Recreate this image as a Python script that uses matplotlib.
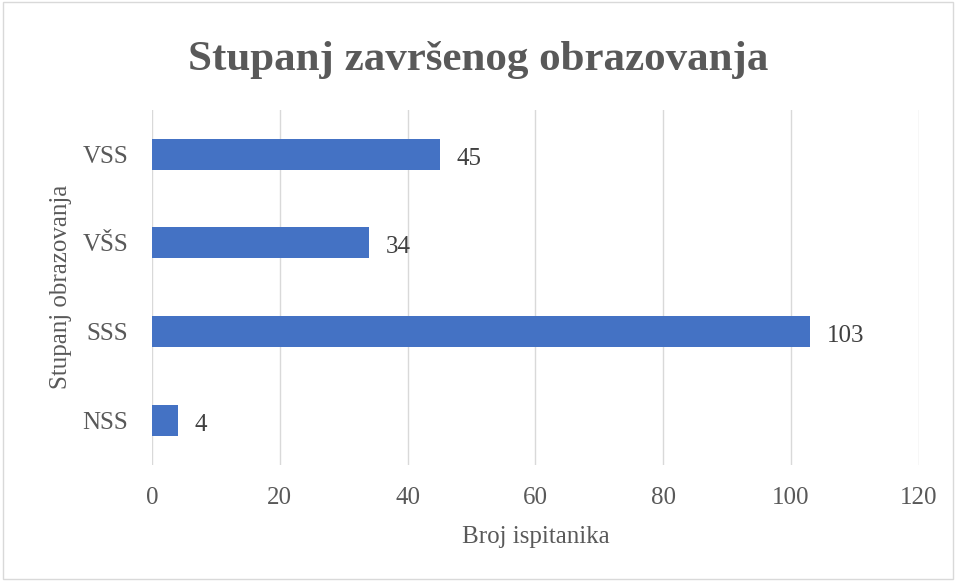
import matplotlib.pyplot as plt
from matplotlib.patches import Rectangle

# Data
categories = ['NSS', 'SSS', 'VŠS', 'VSS']
counts = [4, 103, 34, 45]
x_ticks = [0, 20, 40, 60, 80, 100, 120]

plt.rcParams['font.family'] = ['Liberation Serif', 'DejaVu Serif']

fig = plt.figure(figsize=(9.56, 5.81), dpi=100)
ax = fig.add_axes([0.159, 0.2, 0.802, 0.611])

bars = ax.barh(categories, counts, height=0.35, color='#4472c4', zorder=3)
for rect, v in zip(bars, counts):
    ax.text(rect.get_width() + 2.6, rect.get_y() + rect.get_height() / 2 - 0.05, str(v),
            va='center', ha='left', fontsize=18, color='#404040')

ax.set_xlim(0, 120)
ax.set_ylim(-0.5, 3.5)
ax.set_xticks(x_ticks)
ax.grid(axis='x', color='#d9d9d9', linewidth=1, zorder=0)
for s in ax.spines.values():
    s.set_visible(False)
ax.tick_params(axis='both', length=0, labelsize=18, labelcolor='#595959')
ax.tick_params(axis='x', pad=16)
ax.tick_params(axis='y', pad=17)

ax.set_xlabel('Broj ispitanika', fontsize=18, color='#595959', labelpad=12)
ax.set_ylabel('Stupanj obrazovanja', fontsize=18, color='#595959', labelpad=8)

fig.suptitle('Stupanj završenog obrazovanja', fontsize=31, fontweight='bold',
             color='#595959', y=0.93)

fig.patches.append(Rectangle((0.003, 0.003), 0.994, 0.994, transform=fig.transFigure,
                             fill=False, edgecolor='#d9d9d9', linewidth=1))

fig.savefig('out.png', dpi=100)
